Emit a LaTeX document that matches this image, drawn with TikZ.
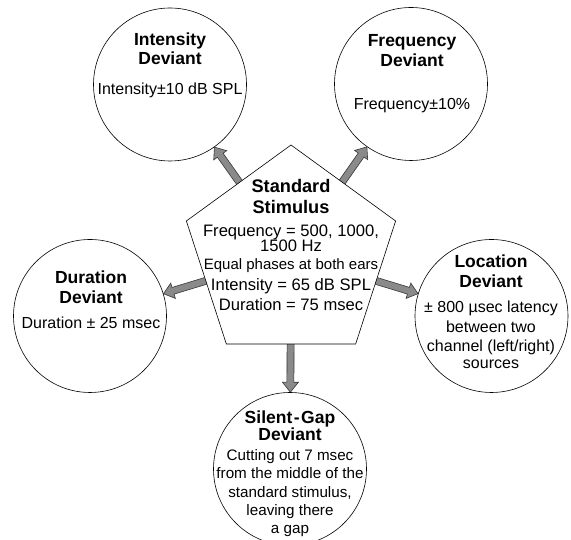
\documentclass[tikz,border=0pt]{standalone}
\usepackage{fontspec}
\setmainfont{Liberation Sans}
\usetikzlibrary{shapes.geometric,calc}
\pgfdeclarelayer{background}
\pgfsetlayers{background,main}
\definecolor{arrowgray}{RGB}{138,138,138}
\definecolor{edgegray}{RGB}{55,55,55}
\newcommand{\ttl}{\fontsize{17.5}{20}\selectfont\bfseries}
\newcommand{\bigttl}{\fontsize{18.2}{20}\selectfont\bfseries}
\newcommand{\phasefont}{\fontsize{15}{18}\selectfont}

\begin{document}
\begin{tikzpicture}[x=1pt,y=1pt,
  stimulus/.style={regular polygon,regular polygon sides=5,minimum size=220pt,inner sep=0pt,draw,fill=white,line width=0.6pt},
  deviant/.style={circle,minimum size=153pt,inner sep=0pt,draw,fill=white,line width=0.6pt},
  txt/.style={align=center,inner sep=0pt,font=\fontsize{16}{19}\selectfont},
  fat/.style={fill=arrowgray,draw=edgegray,line width=0.6pt,line join=miter}]
  \clip (0,0) rectangle (571,540);
  \node[stimulus] (std)        at (291,285)   {};
  \node[deviant]  (intensity)  at (170,455.5) {};
  \node[deviant]  (frequency)  at (411,456)   {};
  \node[deviant]  (duration)   at (90,224)    {};
  \node[deviant]  (location)   at (491.5,224) {};
  \node[deviant]  (gap)        at (290,71)    {};

  \node[txt,font=\fontsize{16.6}{19}\selectfont] (std-txt) at (291,295.5) {{\bigttl Standard}\\[2pt]{\bigttl Stimulus}\\[4pt]
    Frequency = 500, 1000,\\[-3.5pt]1500 Hz\\[-1.5pt]{\phasefont Equal phases at both ears}\\[2pt]
    Intensity = 65 dB SPL\\[1pt]Duration = 75 msec};
  \node[txt] (intensity-txt) at (170,474.2) {{\ttl Intensity}\\{\ttl Deviant}\\[11pt]Intensity±10 dB SPL};
  \node[txt] (frequency-txt) at (412,466) {{\ttl Frequency}\\[1pt]{\ttl Deviant}\\[24pt]Frequency±10\%};
  \node[txt] (duration-txt) at (91,240.7) {{\ttl Duration}\\[1pt]{\ttl Deviant}\\[6pt]Duration ± 25 msec};
  \node[txt] (location-txt) at (491,228.7) {{\ttl Location}\\[1pt]{\ttl Deviant}\\[6pt]± 800 µsec latency\\[1pt]
    between two\\channel (left/right)\\[-2pt]sources};
  \node[txt,font=\fontsize{15.2}{18}\selectfont] (gap-txt) at (290,66.5) {{\ttl Silent\kern1.5pt-\kern1.5pt Gap}\\[-1pt]{\ttl Deviant}\\[2pt]
    Cutting out 7 msec\\from the middle of the\\[1pt]standard stimulus,\\leaving there\\a gap};

  % fat arrows from the standard to each deviant
  \begin{pgfonlayer}{background}
  \foreach \dev in {intensity,frequency,duration,location,gap}{
    \path (std) -- (\dev) coordinate[pos=0] (s) coordinate[pos=1] (e);
    \coordinate (b) at ($(s)!-4pt!(e)$);
    \coordinate (h) at ($(e)!10pt!(s)$);
    \filldraw[fat] ($(b)!3.5pt!90:(e)$) -- ($(h)!3.5pt!-90:(b)$) -- ($(h)!8pt!-90:(b)$) -- (e)
      -- ($(h)!8pt!90:(b)$) -- ($(h)!3.5pt!90:(b)$) -- ($(b)!3.5pt!-90:(e)$) -- cycle;
  }
  \end{pgfonlayer}
\end{tikzpicture}
\end{document}
